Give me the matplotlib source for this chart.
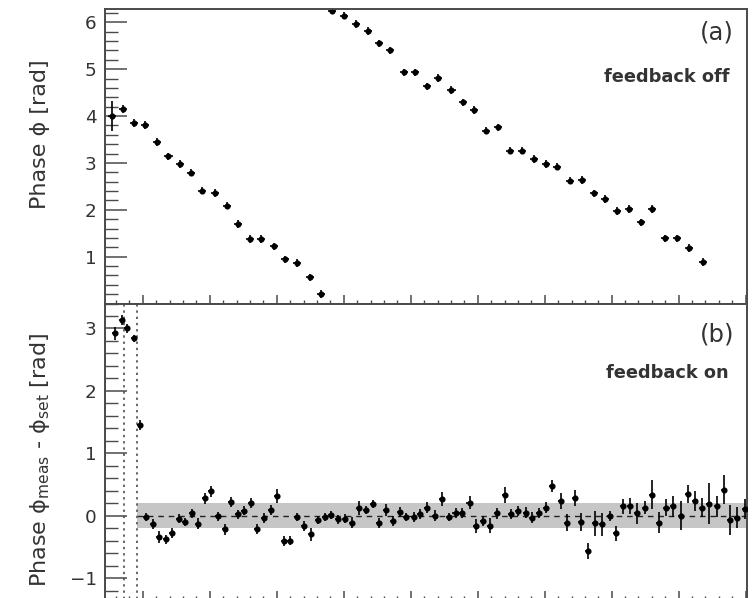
import numpy as np
import matplotlib
matplotlib.use('Agg')
import matplotlib.pyplot as plt
from matplotlib.ticker import MultipleLocator, NullFormatter

plt.rcParams['font.family'] = ['DejaVu Sans']
plt.rcParams['mathtext.fontset'] = 'dejavusans'

# ---------------- data: panel (a) feedback off ----------------
top_x = [-4.63, -2.99, -1.30, 0.34, 2.09, 3.83, 5.58, 7.22, 8.82, 10.81,
         12.56, 14.20, 15.93, 17.68, 19.52, 21.27, 23.02, 24.90, 26.61,
         28.25, 29.99, 31.84, 33.63, 35.22, 36.97, 38.95, 40.70, 42.45,
         44.10, 46.08, 47.77, 49.42, 51.17, 53.06, 54.80, 56.55, 58.39,
         60.13, 61.88, 63.77, 65.62, 67.35, 69.00, 70.85, 72.59, 74.44,
         76.08, 77.97, 79.72, 81.55, 83.56]
top_phase = [4.01, 4.15, 3.85, 3.81, 3.45, 3.14, 2.98, 2.79, 2.41, 2.36,
             2.09, 1.70, 1.38, 1.38, 1.22, 0.94, 0.86, 0.56, 0.20,
             6.25, 6.14, 5.96, 5.81, 5.55, 5.40, 4.93, 4.93, 4.63, 4.81,
             4.56, 4.29, 4.13, 3.69, 3.76, 3.26, 3.26, 3.08, 2.98, 2.92,
             2.62, 2.64, 2.35, 2.23, 1.97, 2.02, 1.73, 2.02, 1.39, 1.39,
             1.18, 0.89]
top_err = [0.32, 0.08, 0.08, 0.08, 0.08, 0.08, 0.08, 0.08, 0.08, 0.08,
           0.08, 0.08, 0.08, 0.08, 0.08, 0.08, 0.08, 0.08, 0.08,
           0.08, 0.08, 0.08, 0.08, 0.08, 0.08, 0.08, 0.08, 0.08, 0.08,
           0.08, 0.08, 0.08, 0.08, 0.08, 0.08, 0.08, 0.08, 0.08, 0.08,
           0.08, 0.08, 0.08, 0.08, 0.08, 0.08, 0.08, 0.08, 0.08, 0.08,
           0.08, 0.08]
top_xerr = 0.6

# ---------------- data: panel (b) feedback on ----------------
bot_x = [-4.14, -3.14, -2.39, -1.26, -0.40,
         0.49, 1.49, 2.48, 3.44, 4.42, 5.43, 6.32, 7.32, 8.27, 9.27,
         10.21, 11.21, 12.20, 13.20, 14.14, 15.14, 16.14, 17.09, 18.09, 19.07,
         20.03, 21.02, 22.02, 23.02, 24.01, 25.16, 26.16, 27.14, 28.15, 29.15,
         30.13,
         31.24, 32.23, 33.33, 34.32, 35.22, 36.32, 37.37, 38.36, 39.36, 40.45,
         41.45, 42.45, 43.59, 44.69, 45.68, 46.68, 47.68, 48.77, 49.78, 50.82,
         51.81, 52.91, 54.05, 55.01, 56.05, 57.15, 58.15, 59.13, 60.24, 61.14,
         62.38, 63.38, 64.47, 65.47, 66.46, 67.50, 68.61, 69.70, 70.70, 71.69,
         72.74, 73.84, 74.98, 75.98, 77.07, 78.18, 79.22, 80.31, 81.41, 82.41,
         83.41, 84.54, 85.65, 86.70, 87.68, 88.68, 89.88]
bot_dphase = [2.92, 3.14, 3.00, 2.84, 1.46,
              -0.02, -0.14, -0.34, -0.38, -0.27, -0.05, -0.10, 0.04, -0.13, 0.28,
              0.39, -0.01, -0.22, 0.22, 0.02, 0.08, 0.20, -0.22, -0.04, 0.09,
              0.32, -0.41, -0.40, -0.02, -0.17, -0.30, -0.07, -0.02, 0.01, -0.06,
              -0.05,
              -0.11, 0.12, 0.09, 0.19, -0.11, 0.09, -0.08, 0.06, -0.02, -0.02,
              0.03, 0.13, 0.00, 0.27, -0.02, 0.05, 0.04, 0.21, -0.16, -0.09,
              -0.16, 0.04, 0.33, 0.02, 0.07, 0.05, -0.03, 0.05, 0.13, 0.48,
              0.24, -0.11, 0.29, -0.10, -0.57, -0.12, -0.14, 0.00, -0.28, 0.15,
              0.15, 0.04, 0.13, 0.34, -0.11, 0.13, 0.15, 0.00, 0.35, 0.24,
              0.13, 0.19, 0.15, 0.42, -0.07, -0.03, 0.11]
bot_err = [0.10, 0.08, 0.07, 0.06, 0.08,
           0.07, 0.08, 0.09, 0.07, 0.08, 0.07, 0.07, 0.07, 0.09, 0.09,
           0.09, 0.07, 0.09, 0.08, 0.07, 0.07, 0.08, 0.08, 0.08, 0.08,
           0.11, 0.08, 0.07, 0.07, 0.08, 0.11, 0.07, 0.07, 0.07, 0.07,
           0.07,
           0.09, 0.11, 0.07, 0.07, 0.08, 0.09, 0.08, 0.08, 0.07, 0.08,
           0.08, 0.09, 0.09, 0.11, 0.07, 0.08, 0.08, 0.11, 0.11, 0.08,
           0.12, 0.09, 0.13, 0.08, 0.08, 0.09, 0.09, 0.08, 0.09, 0.10,
           0.13, 0.13, 0.13, 0.14, 0.13, 0.20, 0.19, 0.08, 0.12, 0.12,
           0.13, 0.17, 0.11, 0.24, 0.17, 0.14, 0.17, 0.23, 0.14, 0.16,
           0.15, 0.33, 0.17, 0.24, 0.24, 0.17, 0.16]
bot_xerr = 0.45

settle_marks = [-2.75, -0.90]   # dotted vertical lines
tolerance = 0.2                 # half width of grey band

# ---------------- figure ----------------
W, H = 755, 598
fig = plt.figure(figsize=(W / 100, H / 100), dpi=100)
fig.patch.set_facecolor('white')

L, R = 105, 747
ax1 = fig.add_axes([L / W, 1 - 303.5 / H, (R - L) / W, 294.5 / H])
ax2 = fig.add_axes([L / W, 1 - 600 / H, (R - L) / W, 296.5 / H])

XLIM = (-5.65, 90.2)
spine_col = '#4a4a4a'
txt_col = '#333333'

for ax in (ax1, ax2):
    ax.set_xlim(*XLIM)
    for s in ax.spines.values():
        s.set_color(spine_col)
        s.set_linewidth(1.4)
    ax.xaxis.set_major_locator(MultipleLocator(10))
    ax.xaxis.set_minor_locator(MultipleLocator(2))
    ax.xaxis.set_major_formatter(NullFormatter())
    ax.tick_params(axis='x', which='major', direction='in', length=6.5,
                   width=1.1, color=spine_col, top=False, bottom=True)
    ax.tick_params(axis='x', which='minor', direction='in', length=3.0,
                   width=1.0, color=spine_col, top=False, bottom=True)
    ax.tick_params(axis='y', which='major', direction='in', length=16,
                   width=1.1, color=spine_col, labelsize=13.2,
                   labelcolor=txt_col, pad=6, right=False)
    ax.tick_params(axis='y', which='minor', direction='in', length=9.5,
                   width=1.0, color=spine_col, right=False)
    ax.yaxis.set_minor_locator(MultipleLocator(0.2))
    ax.yaxis.set_major_locator(MultipleLocator(1))

# panel (a)
ax1.set_ylim(0, 2 * np.pi)
ax1.set_yticks([1, 2, 3, 4, 5, 6])
ax1.errorbar(top_x, top_phase, yerr=top_err, xerr=top_xerr, fmt='o',
             color='black', ms=3.4, elinewidth=1.2, capsize=0)
ax1.set_ylabel('Phase ϕ [rad]', fontsize=16, color=txt_col, va='center')
ax1.yaxis.set_label_coords(-0.101, 0.576)
ax1.text(0.979, 0.895, '(a)', transform=ax1.transAxes, ha='right',
         va='baseline', fontsize=17.5, color=txt_col)
ax1.text(0.9735, 0.753, 'feedback off', transform=ax1.transAxes, ha='right',
         va='baseline', fontsize=12.8, fontweight='bold', color=txt_col)

# panel (b)
ax2.set_ylim(-1.35, 3.4)
ax2.set_yticks([-1, 0, 1, 2, 3])
ax2.axhspan(-tolerance, tolerance, xmin=(settle_marks[1] - XLIM[0]) / (XLIM[1] - XLIM[0]),
            xmax=1, color='#c6c6c6', lw=0, zorder=0)
ax2.plot([settle_marks[1], XLIM[1]], [0, 0], color='#222222', lw=1.0,
         ls=(0, (4, 3.5)), zorder=1)
for xv in settle_marks:
    ax2.axvline(xv, color='#666666', lw=1.4, ls=(0, (1.2, 2.0)), zorder=1)
ax2.errorbar(bot_x, bot_dphase, yerr=bot_err, xerr=bot_xerr, fmt='o',
             color='black', ms=3.4, elinewidth=1.2, capsize=0, zorder=3)
ax2.set_ylabel(r'Phase ϕ$_{\mathregular{meas}}$ - ϕ$_{\mathregular{set}}$ [rad]',
               fontsize=16, color=txt_col, va='center')
ax2.yaxis.set_label_coords(-0.101, 0.472)
ax2.text(0.981, 0.871, '(b)', transform=ax2.transAxes, ha='right',
         va='baseline', fontsize=17.5, color=txt_col)
ax2.text(0.972, 0.748, 'feedback on', transform=ax2.transAxes, ha='right',
         va='baseline', fontsize=12.8, fontweight='bold', color=txt_col)

fig.savefig('out.png', dpi=100, facecolor='white')
